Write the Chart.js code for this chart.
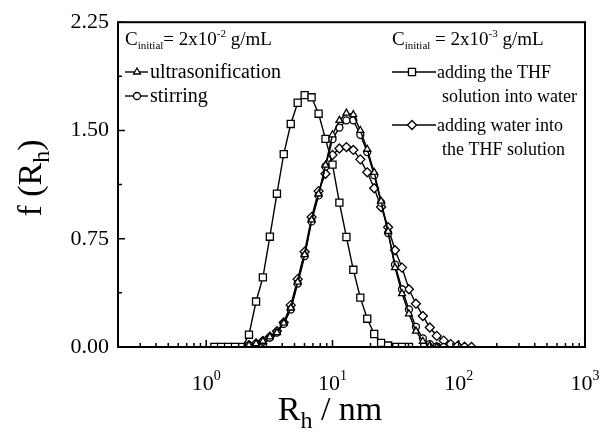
<!DOCTYPE html>
<html>
<head>
<meta charset="utf-8">
<script src="https://cdn.jsdelivr.net/npm/chart.js@4.4.0/dist/chart.umd.min.js"></script>
<style>
  html, body { margin: 0; padding: 0; background: #fff; }
  #wrap { width: 600px; height: 432px; position: relative; }
</style>
</head>
<body>
<div id="wrap"><canvas id="myChart"></canvas></div>
<script>
// hydrodynamic radius grid, nm
const rh = [1.16, 1.31, 1.49, 1.69, 1.93, 2.18, 2.48, 2.81, 3.19, 3.63,
            4.11, 4.67, 5.30, 6.02, 6.83, 7.76, 8.80, 10.0, 11.34, 12.89,
            14.62, 16.61, 18.84, 21.40, 24.27, 27.58, 31.28, 35.54, 40.32, 45.80,
            51.95, 59.02, 66.95, 76.04, 86.3, 98.0, 111.2, 126.3];

// C = 2x10^-2 g/mL
const ultrasonification = [null, null, null, null, null, 0.012, 0.023, 0.04, 0.07, 0.10,
            0.165, 0.27, 0.45, 0.64, 0.88, 1.06, 1.26, 1.47, 1.57, 1.62,
            1.61, 1.50, 1.37, 1.21, 1.01, 0.80, 0.55, 0.37, 0.23, 0.11,
            0.04, 0.01, 0, null, null, null, null, null];
const stirring = [null, null, null, null, null, 0.012, 0.022, 0.038, 0.065, 0.10,
            0.16, 0.26, 0.44, 0.63, 0.87, 1.05, 1.25, 1.44, 1.52, 1.57,
            1.57, 1.47, 1.35, 1.19, 1.00, 0.79, 0.57, 0.40, 0.26, 0.14,
            0.06, 0.02, 0.005, 0, null, null, null, null];
// C = 2x10^-3 g/mL
const thfIntoWater = [0, 0, 0, 0, 0, 0.085, 0.315, 0.482, 0.764, 1.062,
            1.336, 1.545, 1.692, 1.745, 1.73, 1.616, 1.442, 1.263, 1.0, 0.762,
            0.535, 0.342, 0.196, 0.09, 0.028, 0.01, 0, 0, 0, null,
            null, null, null, null, null, null, null, null];
const waterIntoThf = [null, null, null, null, null, 0.012, 0.024, 0.042, 0.072, 0.11,
            0.17, 0.29, 0.47, 0.66, 0.90, 1.08, 1.20, 1.33, 1.375, 1.385,
            1.365, 1.30, 1.21, 1.10, 0.97, 0.83, 0.67, 0.55, 0.40, 0.30,
            0.215, 0.135, 0.077, 0.044, 0.02, 0.008, 0.002, 0];

const xTicks = [1, 10, 100, 1000];
const xTickExp = ['0', '1', '2', '3'];
const yTicks = [0, 0.75, 1.5, 2.25];
const yMinor = [0.375, 1.125, 1.875];

const serif = "'Liberation Serif', 'Times New Roman', serif";

function toPoints(series) {
    return rh.map((x, i) => series[i] == null ? null : {x: x, y: series[i]})
             .filter(p => p);
}

function makeSet(label, series, style, radius) {
    return {
        label: label,
        data: toPoints(series),
        showLine: true,
        borderColor: '#000',
        borderWidth: 1.4,
        pointStyle: style,
        pointRadius: radius,
        pointBackgroundColor: '#fff',
        pointBorderColor: '#000',
        pointBorderWidth: 1.3,
        tension: 0
    };
}

// text made of runs, for subscripts / superscripts
function drawRuns(ctx, runs, x, y) {
    runs.forEach(r => {
        ctx.font = r.size + 'px ' + serif;
        ctx.fillText(r.t, x, y + (r.dy || 0));
        x += ctx.measureText(r.t).width;
    });
}
function runsWidth(ctx, runs) {
    let w = 0;
    runs.forEach(r => { ctx.font = r.size + 'px ' + serif; w += ctx.measureText(r.t).width; });
    return w;
}

function legendMark(ctx, style, radius, x0, x1, xm, y) {
    ctx.save();
    ctx.strokeStyle = '#000';
    ctx.lineWidth = 1.4;
    ctx.beginPath();
    ctx.moveTo(x0, y);
    ctx.lineTo(x1, y);
    ctx.stroke();
    ctx.fillStyle = '#fff';
    ctx.lineWidth = 1.3;
    Chart.helpers.drawPoint(ctx, {pointStyle: style, radius: radius, rotation: 0, borderWidth: 1.3}, xm, y);
    ctx.restore();
}

const decorPlugin = {
    id: 'decor',
    afterDraw(chart) {
        const ctx = chart.ctx;
        const a = chart.chartArea;
        const xs = chart.scales.x, ys = chart.scales.y;
        ctx.save();
        ctx.strokeStyle = '#000';
        ctx.fillStyle = '#000';

        // frame
        ctx.lineWidth = 2;
        ctx.strokeRect(a.left, a.top, a.right - a.left, a.bottom - a.top);

        // inward ticks, bottom
        ctx.lineWidth = 1.5;
        ctx.beginPath();
        for (let k = -1; k <= 2; k++) {
            for (let m = 1; m <= 9; m++) {
                const v = m * Math.pow(10, k);
                if (v < 0.2 || v > 1000) continue;
                const px = xs.getPixelForValue(v);
                const len = m === 1 ? 7 : 4;
                ctx.moveTo(px, a.bottom);
                ctx.lineTo(px, a.bottom - len);
            }
        }
        // inward ticks, left
        yTicks.forEach(v => {
            const py = ys.getPixelForValue(v);
            ctx.moveTo(a.left, py); ctx.lineTo(a.left + 7, py);
        });
        yMinor.forEach(v => {
            const py = ys.getPixelForValue(v);
            ctx.moveTo(a.left, py); ctx.lineTo(a.left + 4, py);
        });
        ctx.stroke();

        ctx.textBaseline = 'alphabetic';

        // x tick labels, 10 with superscript exponent
        xTicks.forEach((v, i) => {
            const runs = [{t: '10', size: 22}, {t: xTickExp[i], size: 14, dy: -10}];
            const px = xs.getPixelForValue(v);
            drawRuns(ctx, runs, px - runsWidth(ctx, runs) / 2, 390);
        });

        // axis titles
        const xt = [{t: 'R', size: 34}, {t: 'h', size: 24, dy: 8}, {t: ' / nm', size: 34}];
        drawRuns(ctx, xt, 330 - runsWidth(ctx, xt) / 2, 420);

        const yt = [{t: 'f (R', size: 34}, {t: 'h', size: 24, dy: 8}, {t: ')', size: 34}];
        ctx.save();
        ctx.translate(41, 178);
        ctx.rotate(-Math.PI / 2);
        drawRuns(ctx, yt, -runsWidth(ctx, yt) / 2, 0);
        ctx.restore();

        // legend, left column
        drawRuns(ctx, [{t: 'C', size: 19}, {t: 'initial', size: 11, dy: 4},
                       {t: '= 2x10', size: 19}, {t: '-2', size: 11, dy: -8},
                       {t: ' g/mL', size: 19}], 125, 45);
        legendMark(ctx, 'triangle', 4, 125, 148, 137, 72);
        drawRuns(ctx, [{t: 'ultrasonification', size: 20}], 150, 78);
        legendMark(ctx, 'circle', 3.5, 125, 148, 137, 96);
        drawRuns(ctx, [{t: 'stirring', size: 20}], 150, 102);

        // legend, right column
        drawRuns(ctx, [{t: 'C', size: 19}, {t: 'initial', size: 11, dy: 4},
                       {t: ' = 2x10', size: 19}, {t: '-3', size: 11, dy: -8},
                       {t: ' g/mL', size: 19}], 392, 45);
        legendMark(ctx, 'rect', 5, 392, 436, 412, 72);
        drawRuns(ctx, [{t: 'adding the THF', size: 18}], 437, 78);
        drawRuns(ctx, [{t: 'solution into water', size: 18}], 442, 102);
        legendMark(ctx, 'rectRot', 4.5, 392, 436, 412, 125);
        drawRuns(ctx, [{t: 'adding water into', size: 18}], 437, 131);
        drawRuns(ctx, [{t: 'the THF solution', size: 18}], 442, 155);

        ctx.restore();
    }
};

const config = {
    type: 'scatter',
    data: {
        datasets: [
            makeSet('ultrasonification', ultrasonification, 'triangle', 4),
            makeSet('stirring', stirring, 'circle', 3.5),
            makeSet('adding the THF solution into water', thfIntoWater, 'rect', 5),
            makeSet('adding water into the THF solution', waterIntoThf, 'rectRot', 4.5)
        ]
    },
    options: {
        responsive: true,
        maintainAspectRatio: false,
        animation: false,
        devicePixelRatio: 1,
        layout: {padding: {left: 0, right: 15, top: 20, bottom: 0}},
        plugins: {legend: {display: false}, tooltip: {enabled: false}},
        scales: {
            x: {
                type: 'logarithmic',
                min: 0.2,
                max: 1000,
                afterBuildTicks: s => { s.ticks = xTicks.map(v => ({value: v})); },
                afterFit: s => { s.height = 85; s.paddingLeft = 0; s.paddingRight = 0; },
                grid: {display: false, drawTicks: false},
                border: {display: false},
                ticks: {display: false}
            },
            y: {
                min: 0,
                max: 2.25,
                afterBuildTicks: s => { s.ticks = yTicks.map(v => ({value: v})); },
                afterFit: s => { s.width = 118; },
                grid: {display: false, drawTicks: false},
                border: {display: false},
                ticks: {
                    padding: 9,
                    color: '#000',
                    font: {family: serif, size: 22},
                    callback: v => v.toFixed(2)
                }
            }
        }
    },
    plugins: [decorPlugin]
};

const myChart = new Chart(document.getElementById('myChart'), config);
</script>
</body>
</html>
